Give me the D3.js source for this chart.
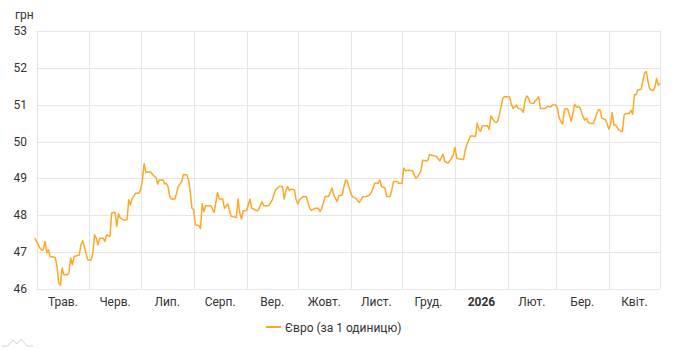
<!DOCTYPE html>
<html><head><meta charset="utf-8">
<script src="https://cdn.jsdelivr.net/npm/d3@7"></script>
<style>
html,body{margin:0;padding:0;background:#fff;}
svg{display:block;font-family:Roboto,"Noto Sans",sans-serif;}
</style></head>
<body><svg id="c" width="678" height="350"></svg>
<script>
const startDate = "2025-05-01";
const endDate = "2026-05-01";
const dayOffsets = [-1,2,3,4,5,6,7,8,10,11,12,13,14,15,16,18,19,20,21,22,25,26,27,28,30,32,33,34,35,36,37,39,40,41,43,44,46,47,48,49,51,53,54,55,56,57,58,60,61,62,63,64,66,67,69,70,71,72,74,75,76,77,78,79,81,82,83,85,86,88,89,90,91,92,93,95,96,97,98,99,102,103,104,106,107,109,110,112,113,114,117,118,119,120,121,123,125,126,127,129,130,132,133,136,138,140,142,144,145,146,147,148,149,151,152,153,154,156,158,159,160,161,163,165,166,167,169,171,173,174,176,177,179,180,181,182,184,185,187,188,189,191,193,195,196,197,198,200,201,202,204,205,207,208,209,211,212,214,215,216,218,220,222,223,225,226,228,229,230,232,234,236,237,238,239,241,243,244,245,246,248,250,251,252,254,256,257,258,259,260,261,264,265,266,268,269,270,271,273,274,277,278,279,280,281,282,284,285,286,287,288,289,291,292,293,294,295,298,299,301,302,304,305,306,308,309,310,311,313,314,315,316,318,320,321,322,323,325,326,328,329,330,331,333,334,335,336,337,338,339,341,343,344,345,347,348,349,350,351,352,354,355,356,357,358,359,361,362,363,364,365];
const euroValues = [47.38,47.11,47.06,47.06,47.29,46.98,47.06,46.88,46.87,46.85,46.61,46.16,46.10,46.57,46.39,46.39,46.44,46.84,46.66,46.88,46.92,47.20,47.31,47.15,46.79,46.79,46.98,47.47,47.38,47.20,47.38,47.38,47.29,47.47,47.42,48.06,48.08,47.70,48.04,47.93,47.87,47.88,48.42,48.28,48.46,48.51,48.60,48.60,48.70,48.96,49.40,49.16,49.18,49.16,49.05,49.03,48.85,48.96,48.96,48.85,48.87,48.78,48.51,48.44,48.44,48.60,48.78,48.92,49.10,49.10,48.96,48.64,48.19,48.15,47.74,47.72,47.64,48.31,48.10,48.26,48.26,48.17,48.08,48.62,48.44,48.44,48.19,48.31,48.12,47.97,47.94,48.44,48.06,47.90,48.12,48.13,48.44,48.19,48.17,48.12,48.15,48.37,48.26,48.26,48.42,48.69,48.78,48.78,48.44,48.67,48.78,48.67,48.71,48.69,48.42,48.31,48.42,48.51,48.50,48.33,48.19,48.13,48.19,48.19,48.10,48.19,48.51,48.51,48.74,48.55,48.37,48.53,48.55,48.78,48.96,48.92,48.60,48.50,48.46,48.39,48.35,48.50,48.51,48.55,48.62,48.74,48.87,48.87,48.96,48.78,48.74,48.51,48.51,48.69,48.92,48.92,48.87,48.87,49.28,49.21,49.22,49.21,49.01,49.04,49.19,49.49,49.48,49.48,49.64,49.62,49.60,49.48,49.55,49.66,49.46,49.42,49.55,49.64,49.84,49.55,49.53,49.51,49.78,49.92,50.15,50.15,50.13,50.50,50.33,50.28,50.43,50.43,50.33,50.70,50.55,50.51,50.55,50.73,51.18,51.22,51.21,51.01,50.90,50.94,50.99,50.90,50.87,50.79,51.12,51.24,51.18,51.05,51.03,51.11,51.15,51.22,50.90,50.90,50.96,50.94,50.99,50.99,50.90,50.63,50.47,50.85,50.90,50.88,50.55,50.76,51.01,50.94,50.94,50.67,50.58,50.63,50.51,50.49,50.49,50.76,50.87,50.85,50.63,50.60,50.49,50.34,50.45,50.79,50.45,50.45,50.31,50.27,50.72,50.76,50.76,50.85,50.74,51.27,51.27,51.40,51.42,51.67,51.87,51.90,51.63,51.42,51.38,51.47,51.71,51.53,51.58];
const monthLabels = ["Трав.","Черв.","Лип.","Серп.","Вер.","Жовт.","Лист.","Груд.","2026","Лют.","Бер.","Квіт."];
const yTicks = [46,47,48,49,50,51,52,53];
const unitLabel = "грн";
const seriesName = "Євро (за 1 одиницю)";

const svg = d3.select("#c");
const W = 678, H = 350;
const m = {left: 36.5, right: 18, top: 31, bottom: 61};
const parse = d3.utcParse("%Y-%m-%d");
const t0 = parse(startDate), t1 = parse(endDate);

const x = d3.scaleUtc().domain([t0, t1]).range([m.left, W - m.right]);
const y = d3.scaleLinear().domain([46, 53]).range([H - m.bottom, m.top]);

const data = dayOffsets.map((d, i) => ({date: d3.utcDay.offset(t0, d), v: euroValues[i]}));
const months = d3.utcMonth.range(t0, d3.utcMonth.offset(t1, 1));

// horizontal grid
svg.append("g").selectAll("line").data(yTicks).join("line")
  .attr("x1", m.left).attr("x2", W - m.right)
  .attr("y1", d => Math.round(y(d)) + 0.5).attr("y2", d => Math.round(y(d)) + 0.5)
  .attr("stroke", "#e6e6e6").attr("stroke-width", 1);

// vertical grid at month starts
svg.append("g").selectAll("line").data(months).join("line")
  .attr("x1", d => Math.round(x(d)) + 0.5).attr("x2", d => Math.round(x(d)) + 0.5)
  .attr("y1", y(53)).attr("y2", y(46))
  .attr("stroke", "#e6e6e6").attr("stroke-width", 1);

// y labels
svg.append("g").selectAll("text").data(yTicks).join("text")
  .attr("x", 27).attr("y", d => y(d) + 4)
  .attr("text-anchor", "end").attr("font-size", 12).attr("fill", "#333")
  .text(d => d);

svg.append("text").attr("x", 15).attr("y", 19).attr("font-size", 12).attr("fill", "#333").text(unitLabel);

// x labels at middle of month
const labelMonths = months.slice(0, monthLabels.length);
svg.append("g").selectAll("text").data(labelMonths).join("text")
  .attr("x", d => (x(d) + x(d3.utcMonth.offset(d, 1))) / 2)
  .attr("y", 306)
  .attr("text-anchor", "middle").attr("font-size", 12).attr("fill", "#333")
  .attr("font-weight", (d, i) => monthLabels[i] === "2026" ? "bold" : "normal")
  .text((d, i) => monthLabels[i]);

// line
const line = d3.line().x(d => x(d.date)).y(d => y(d.v)).curve(d3.curveLinear);
svg.append("path").datum(data)
  .attr("d", line).attr("fill", "none")
  .attr("stroke", "#ffa726").attr("stroke-width", 1.5).attr("stroke-linejoin", "round");

// legend
const lg = svg.append("g");
lg.append("line").attr("x1", 266).attr("x2", 281).attr("y1", 327).attr("y2", 327)
  .attr("stroke", "#ffa726").attr("stroke-width", 2);
lg.append("text").attr("x", 285).attr("y", 331.5).attr("font-size", 12).attr("fill", "#333").text(seriesName);

// small logo
svg.append("path").attr("d", "M2,346 L8,346 L13,340 L17,344 L21,339 L27,346 L33,346")
  .attr("fill", "none").attr("stroke", "#c8c8c8").attr("stroke-width", 0.8);
</script></body></html>
